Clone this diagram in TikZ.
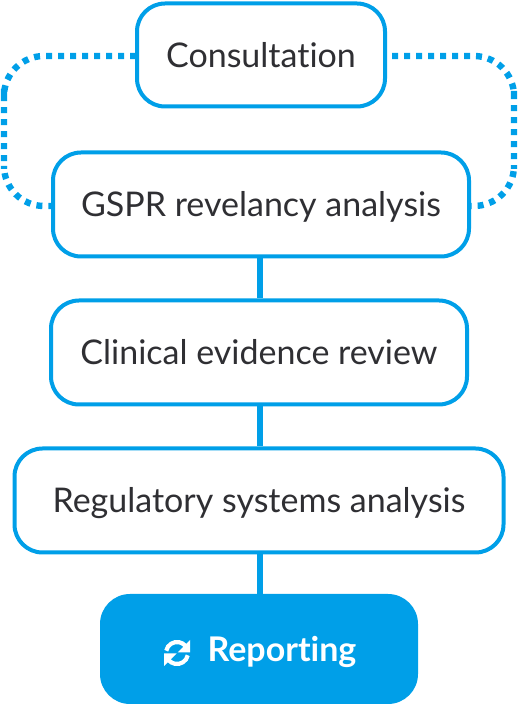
\documentclass[tikz,border=0pt]{standalone}
\usepackage{fontspec}
\setmainfont[Ligatures=NoCommon]{Lato}
\usetikzlibrary{calc}
\definecolor{skyblue}{HTML}{009FE8}
\definecolor{inkgrey}{HTML}{2F2F33}
\tikzset{stagebox/.style={draw=skyblue,line width=4pt,rounded corners=28pt,fill=white,text=inkgrey,minimum height=104pt,inner sep=0pt,text height=25pt,text depth=0pt,font=\fontsize{34}{40}\selectfont},
finalbox/.style={fill=skyblue,rounded corners=30pt,text=white,minimum width=318pt,minimum height=110pt,inner sep=0pt,text height=25pt,text depth=0pt,font=\fontsize{34}{40}\selectfont\bfseries},
solidlink/.style={draw=skyblue,line width=6pt},
dotlink/.style={draw=skyblue,line width=6.4pt,dash pattern=on 6pt off 6pt,rounded corners=40pt}}

\begin{document}
\begin{tikzpicture}[x=1pt,y=1pt]
\useasboundingbox (0,0) rectangle (518,704);
\coordinate (leftbend) at (4,575);
\coordinate (rightbend) at (514,575);
\coordinate (leftstart) at (136,648);
\coordinate (rightstart) at (392,648);
\coordinate (leftend) at (51,498);
\coordinate (rightend) at (471,498);
\node[stagebox,minimum width=248pt,minimum height=103pt] (consultation) at (261,649) {Consultation};
\node[stagebox,minimum width=416pt] (gspr) at (261,499.5) {GSPR revelancy analysis};
\node[stagebox,minimum width=416pt] (clinical) at (259,351.5) {Clinical evidence review};
\node[stagebox,minimum width=489pt] (regulatory) at (259,203.5) {Regulatory systems analysis};
\node[finalbox] (reporting) at (259,55) {\hspace*{46pt}Reporting};
\draw[solidlink] (gspr.south -| 260,0) -- (clinical.north -| 260,0);
\draw[solidlink] (clinical.south -| 260,0) -- (regulatory.north -| 260,0);
\draw[solidlink] (regulatory.south -| 260,0) -- (reporting.north -| 260,0);
\draw[dotlink] (leftstart) -| (leftbend) |- (leftend);
\draw[dotlink] (rightstart) -| (rightbend) |- (rightend);
\coordinate (iconmid) at (177,51);
\draw[white,line width=4.2pt] ($(iconmid)+(168:11)$) arc (168:40:11);
\draw[white,line width=4.2pt] ($(iconmid)+(348:11)$) arc (348:220:11);
\fill[white] ($(iconmid)+(13,13)$) -- ++(0,-12.5) -- ++(-12.5,0) -- cycle;
\fill[white] ($(iconmid)+(-13,-13)$) -- ++(0,12.5) -- ++(12.5,0) -- cycle;
\end{tikzpicture}
\end{document}
